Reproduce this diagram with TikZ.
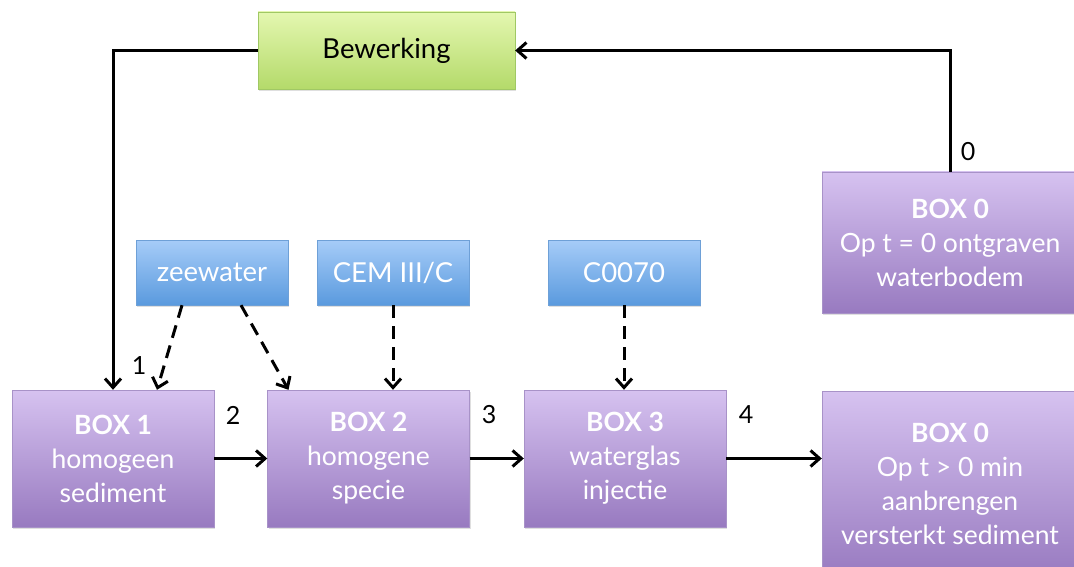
\documentclass[tikz,border=0pt]{standalone}
\usepackage{fontspec}
\setmainfont{Lato}
\usetikzlibrary{arrows.meta, shadows}
\definecolor{boxtop}{RGB}{214,194,240}
\definecolor{boxbot}{RGB}{152,122,192}
\definecolor{boxline}{RGB}{168,146,200}
\definecolor{intop}{RGB}{166,204,248}
\definecolor{inbot}{RGB}{90,154,222}
\definecolor{inline}{RGB}{110,160,215}
\definecolor{edtop}{RGB}{228,247,176}
\definecolor{edbot}{RGB}{180,218,106}
\definecolor{edline}{RGB}{160,200,100}

\begin{document}
\begin{tikzpicture}[x=1pt, y=-1pt,
    procbox/.style={draw=boxline, top color=boxtop, bottom color=boxbot, text=white, align=center,
        minimum width=202pt, minimum height=137pt, font=\fontsize{26.5}{34}\selectfont,
        drop shadow={opacity=0.25, shadow xshift=1pt, shadow yshift=-2pt}},
    inbox/.style={draw=inline, top color=intop, bottom color=inbot, text=white,
        minimum width=152pt, minimum height=65pt, font=\fontsize{27.5}{30}\selectfont,
        drop shadow={opacity=0.25, shadow xshift=1pt, shadow yshift=-2pt}},
    edbox/.style={draw=edline, top color=edtop, bottom color=edbot, text=black,
        minimum width=257pt, minimum height=77pt, font=\fontsize{27.5}{30}\selectfont,
        drop shadow={opacity=0.25, shadow xshift=1pt, shadow yshift=-2pt}},
    arr/.style={line width=3pt, -{Straight Barb[length=9pt, width=16pt, line width=3pt]}},
    dasharr/.style={arr, dash pattern=on 13pt off 8pt},
    numlbl/.style={font=\fontsize{25}{28}\selectfont}
]
    \useasboundingbox (0,0) rectangle (1074,567);

    % Editing step
    \node[edbox] (bew) at (386.5,50.5) {Bewerking};

    % Input boxes
    \node[inbox] (zee) at (212,272.5) {zeewater};
    \node[inbox] (cem) at (393,272.5) {CEM III/C};
    \node[inbox] (c0070) at (624,272.5) {C0070};

    % Process boxes
    \node[procbox, minimum width=256pt, minimum height=141pt] (box0top) at (950,242.5)
        {\textbf{BOX 0}\\Op t = 0 ontgraven\\waterbodem};
    \node[procbox] (box1) at (113,458.5) {\textbf{BOX 1}\\homogeen\\sediment};
    \node[procbox] (box2) at (368.5,458.5) {\textbf{BOX 2}\\homogene\\specie};
    \node[procbox] (box3) at (625,458.5) {\textbf{BOX 3}\\waterglas\\injectie};
    \node[procbox, minimum width=256pt, minimum height=186pt] (box0bot) at (950,484)
        {\textbf{BOX 0}\\Op t > 0 min\\aanbrengen\\versterkt sediment};

    % Loop back
    \draw[arr] (box0top.north) |- (bew.east);
    \draw[arr] (bew.west) -| (box1.north);

    % Dosing
    \draw[dasharr] ([xshift=-30pt]zee.south) -- ([xshift=44pt]box1.north);
    \draw[dasharr] ([xshift=29pt]zee.south) -- ([xshift=-80pt]box2.north);
    \draw[dasharr] (cem.south) -- (cem.south |- box2.north);
    \draw[dasharr] (c0070.south) -- (c0070.south |- box3.north);

    % Main chain
    \draw[arr] (box1.east) -- (box2.west);
    \draw[arr] (box2.east) -- (box3.west);
    \draw[arr] (box3.east) -- (box3.east -| box0bot.west);

    % Step numbers
    \node[numlbl] (n0) at (968,152) {0};
    \node[numlbl] (n1) at (139,366) {1};
    \node[numlbl] (n2) at (233,415) {2};
    \node[numlbl] (n3) at (489,415) {3};
    \node[numlbl] (n4) at (746,415) {4};
\end{tikzpicture}
\end{document}
